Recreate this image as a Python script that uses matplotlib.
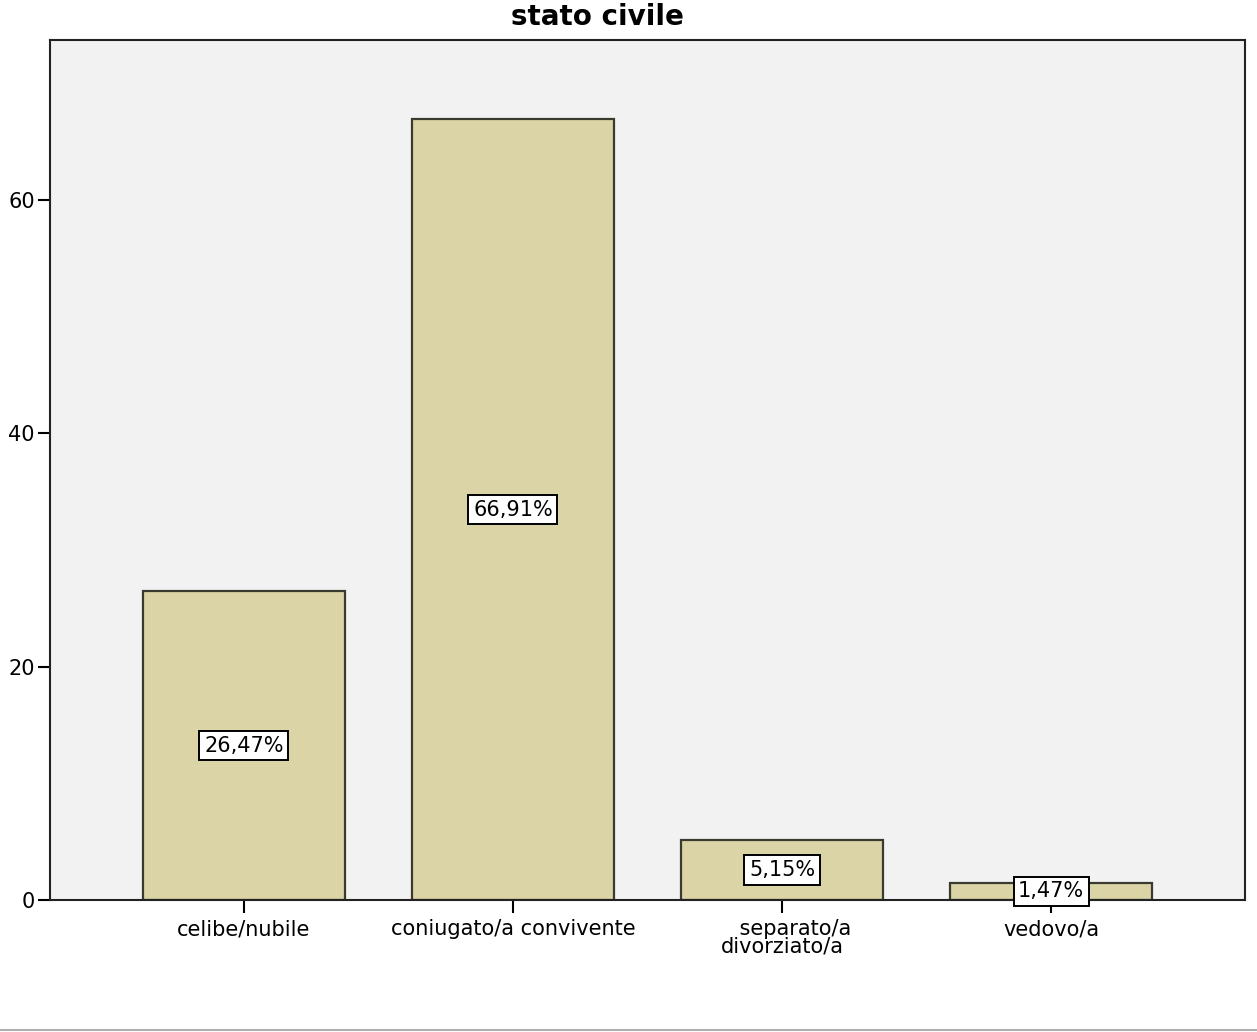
import matplotlib.pyplot as plt
import numpy as np

categorie = ['celibe/nubile', 'coniugato/a convivente', '    separato/a\ndivorziato/a', 'vedovo/a']
percentuali = [26.47, 66.91, 5.15, 1.47]
etichette = ['26,47%', '66,91%', '5,15%', '1,47%']
yticks = [0, 20, 40, 60]

fig = plt.figure(figsize=(12.57, 10.32), dpi=100)
ax = fig.add_axes([50 / 1257, 132 / 1032, 1195 / 1257, 860 / 1032])
ax.set_facecolor('#f2f2f2')

x = np.arange(len(categorie))
ax.bar(x, percentuali, width=0.75, color='#dbd4a6', edgecolor='#3a3a30', linewidth=1.6, zorder=2)

for xi, val, lab in zip(x, percentuali, etichette):
    ax.text(xi, val / 2, lab, ha='center', va='center', fontsize=15, zorder=3,
            bbox=dict(boxstyle='square,pad=0.22', facecolor='white', edgecolor='black', linewidth=1.4))

ax.set_xlim(-0.72, len(categorie) - 1 + 0.72)
ax.set_ylim(0, 73.7)
ax.set_xticks(x)
ax.set_xticklabels(categorie, fontsize=15, linespacing=0.8)
ax.set_yticks(yticks)
ax.set_yticklabels([str(t) for t in yticks], fontsize=15)
ax.tick_params(axis='both', direction='out', length=9, width=1.5, colors='black', pad=2)
ax.tick_params(axis='x', pad=5)
for s in ax.spines.values():
    s.set_linewidth(1.5)
    s.set_color('#222222')

fig.text(597 / 1257, 1 - 17 / 1032, 'stato civile', ha='center', va='center',
         fontsize=20, fontweight='bold')

# sottile linea grigia in fondo
fig.add_artist(plt.Line2D([0, 1], [2 / 1032, 2 / 1032], color='#b0b0b0', linewidth=1.5))

fig.savefig('out.png', dpi=100)
